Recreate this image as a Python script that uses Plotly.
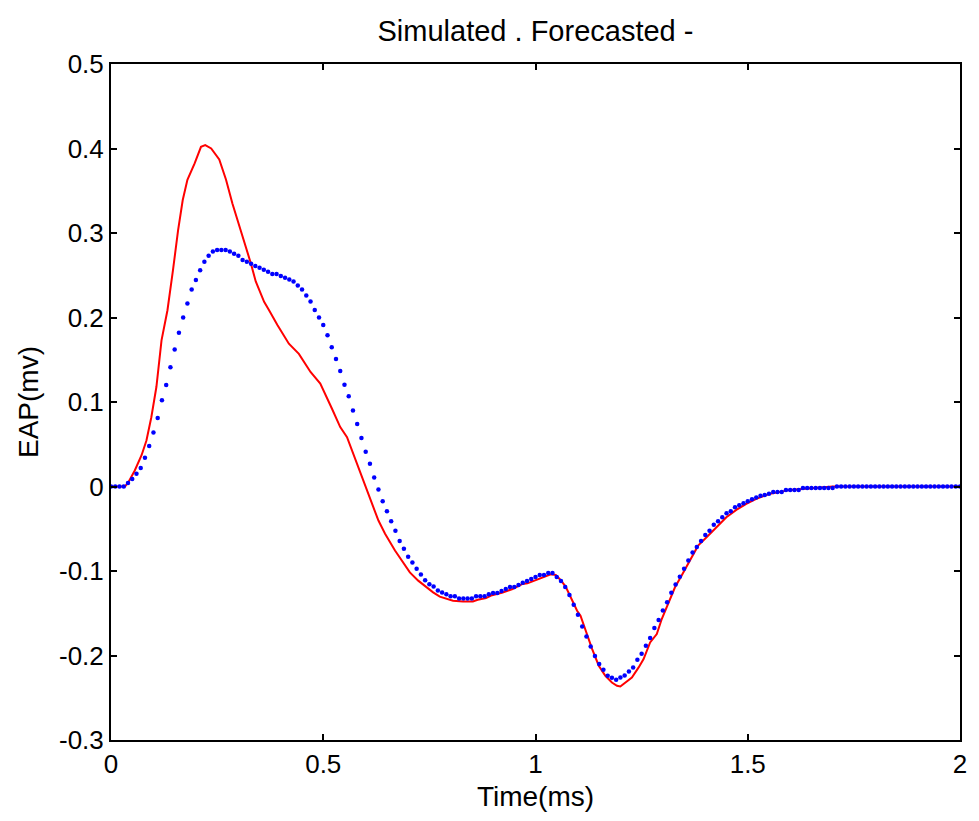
import numpy as np
import plotly.graph_objects as go

# Forecasted (blue dots), sampled every 0.01 ms from 0 to 2 ms
blue_t = [round(i * 0.01, 2) for i in range(201)]
blue_v = [
    0, 0, 0, 0, 0.004, 0.009, 0.015, 0.022, 0.034, 0.048,
    0.064, 0.081, 0.102, 0.120, 0.141, 0.162, 0.182, 0.200, 0.2165, 0.233,
    0.2445, 0.256, 0.266, 0.273, 0.278, 0.280, 0.280, 0.280, 0.278, 0.2753,
    0.273, 0.268, 0.2659, 0.2635, 0.261, 0.2588, 0.2565, 0.254, 0.2516, 0.2516,
    0.249, 0.2469, 0.245, 0.2426, 0.2379, 0.233, 0.226, 0.219, 0.209, 0.200,
    0.191, 0.179, 0.1647, 0.151, 0.1367, 0.1205, 0.1067, 0.090, 0.0739, 0.0573,
    0.041, 0.0269, 0.0107, -0.0036, -0.0174, -0.0292, -0.041, -0.0525, -0.0644, -0.0738,
    -0.083, -0.090, -0.0972, -0.104, -0.111, -0.1158, -0.1182, -0.123, -0.1253, -0.1276,
    -0.130, -0.130, -0.1324, -0.1324, -0.1324, -0.1324, -0.130, -0.130, -0.130, -0.1276,
    -0.126, -0.126, -0.1236, -0.1213, -0.119, -0.119, -0.1165, -0.114, -0.1118, -0.1094,
    -0.107, -0.1047, -0.1047, -0.1023, -0.1023, -0.107, -0.1118, -0.119, -0.1284, -0.140,
    -0.1517, -0.1656, -0.1774, -0.1893, -0.2007, -0.210, -0.2169, -0.224, -0.2264, -0.2287,
    -0.226, -0.2236, -0.2188, -0.2141, -0.205, -0.198, -0.1884, -0.1793, -0.1675, -0.158,
    -0.1466, -0.1371, -0.1256, -0.1161, -0.1067, -0.0972, -0.0877, -0.0782, -0.0715, -0.0644,
    -0.0573, -0.0525, -0.0454, -0.0411, -0.0364, -0.0316, -0.0292, -0.0245, -0.0221, -0.0198,
    -0.0174, -0.015, -0.013, -0.011, -0.010, -0.0085, -0.0065, -0.0065, -0.0065, -0.004,
    -0.004, -0.004, -0.004, -0.0018, -0.0018, -0.0018, -0.0018, -0.0018, -0.0018, -0.0018,
    -0.0018, 0, 0, 0, 0, 0, 0, 0, 0, 0,
    0, 0, 0, 0, 0, 0, 0, 0, 0, 0,
    0, 0, 0, 0, 0, 0, 0, 0, 0, 0,
    0,
]

# Simulated (red line)
red_t = [
    0, 0.033, 0.041, 0.056, 0.072, 0.0835, 0.095, 0.107, 0.119, 0.133,
    0.146, 0.158, 0.169, 0.18, 0.197, 0.212, 0.222, 0.236, 0.255, 0.271,
    0.286, 0.298, 0.314, 0.3295, 0.341, 0.3607, 0.3724, 0.392, 0.419, 0.4426,
    0.470, 0.493, 0.5206, 0.540, 0.556, 0.579, 0.595, 0.6066, 0.618, 0.630,
    0.6456, 0.669, 0.6885, 0.704, 0.7237, 0.743, 0.7588, 0.7745, 0.79, 0.8056,
    0.829, 0.8525, 0.864, 0.8836, 0.8953, 0.911, 0.9227, 0.946, 0.9696, 0.981,
    1.0008, 1.024, 1.036, 1.0476, 1.059, 1.071, 1.0866, 1.098, 1.106, 1.118,
    1.1335, 1.149, 1.1646, 1.180, 1.192, 1.1998, 1.2115, 1.227, 1.243, 1.2546,
    1.27, 1.2857, 1.2974, 1.313, 1.3286, 1.344, 1.3637, 1.383, 1.403, 1.426,
    1.4496, 1.473, 1.4965, 1.52, 1.55, 1.60, 1.65, 1.70, 2.0,
]
red_v = [
    0, 0, 0.005, 0.019, 0.037, 0.0545, 0.082, 0.118, 0.173, 0.2086,
    0.256, 0.303, 0.339, 0.363, 0.3823, 0.402, 0.404, 0.400, 0.387, 0.363,
    0.335, 0.3153, 0.2916, 0.264, 0.2426, 0.2185, 0.2086, 0.191, 0.169, 0.157,
    0.1355, 0.1217, 0.092, 0.0703, 0.0584, 0.0269, 0.006, -0.0107, -0.0245, -0.0403,
    -0.056, -0.0758, -0.0897, -0.1016, -0.1114, -0.1193, -0.1253, -0.1304, -0.1332, -0.1351,
    -0.136, -0.136, -0.134, -0.132, -0.129, -0.127, -0.1255, -0.1213, -0.1153, -0.1146,
    -0.1106, -0.1055, -0.1039, -0.1047, -0.1106, -0.1185, -0.135, -0.147, -0.1529, -0.1707,
    -0.1924, -0.2121, -0.224, -0.232, -0.2359, -0.2367, -0.232, -0.226, -0.2141, -0.2043,
    -0.1845, -0.1746, -0.1568, -0.137, -0.1193, -0.1055, -0.0877, -0.070, -0.060, -0.048,
    -0.0364, -0.0277, -0.0205, -0.0146, -0.009, -0.004, -0.002, 0, 0,
]

x_ticks = [0, 0.5, 1, 1.5, 2]
x_labels = ["0", "0.5", "1", "1.5", "2"]
y_ticks = [-0.3, -0.2, -0.1, 0, 0.1, 0.2, 0.3, 0.4, 0.5]
y_labels = ["-0.3", "-0.2", "-0.1", "0", "0.1", "0.2", "0.3", "0.4", "0.5"]

FONT = "Liberation Sans, Arial, sans-serif"

fig = go.Figure()
fig.add_trace(go.Scatter(
    x=red_t, y=red_v, mode="lines",
    line=dict(color="#ff0000", width=2), name="Simulated",
))
fig.add_trace(go.Scatter(
    x=blue_t, y=blue_v, mode="markers",
    marker=dict(color="#0000ff", size=4.5, line=dict(width=0)), name="Forecasted",
))

axis_common = dict(
    showgrid=False, zeroline=False,
    showline=True, linecolor="black", linewidth=2, mirror="allticks",
    ticks="inside", ticklen=6, tickwidth=1.5, tickcolor="black",
    tickfont=dict(family=FONT, size=26, color="black"),
)

fig.update_layout(
    width=979, height=821,
    margin=dict(l=111, r=14, t=64, b=81),
    paper_bgcolor="white", plot_bgcolor="white",
    showlegend=False,
    title=dict(text="Simulated . Forecasted -", x=0.5, xref="paper",
               xanchor="center", y=0.963, yanchor="middle",
               font=dict(family=FONT, size=29, color="black")),
    xaxis=dict(range=[0, 2], tickvals=x_ticks, ticktext=x_labels,
               title=dict(text="Time(ms)", standoff=8,
                          font=dict(family=FONT, size=28, color="black")),
               **axis_common),
    yaxis=dict(range=[-0.3, 0.5], tickvals=y_ticks, ticktext=y_labels,
               title=dict(text="EAP(mv)", standoff=12,
                          font=dict(family=FONT, size=28, color="black")),
               **axis_common),
)

fig.write_html("out.html")
